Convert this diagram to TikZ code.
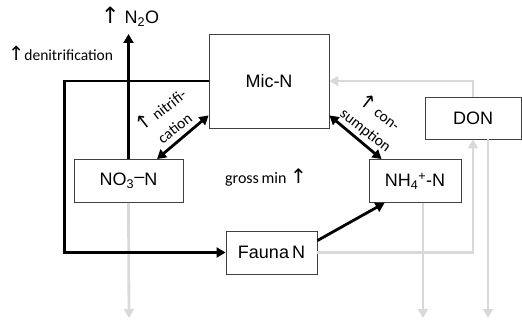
\documentclass[tikz,border=0pt]{standalone}
\usepackage{fontspec}
\setmainfont{Liberation Sans}
\newfontfamily\calfont{Carlito}
\newfontfamily\symfont{DejaVu Sans}
\newcommand{\UpArw}{\scalebox{1.25}{\symfont ↑}}
\usetikzlibrary{arrows.meta,calc}
\definecolor{lgray}{RGB}{217,217,217}
\definecolor{boxgray}{RGB}{64,64,64}
\tikzset{
  box/.style={draw=boxgray, line width=0.9pt, inner sep=0pt, font=\fontsize{18}{20}\selectfont},
  blk/.style={line width=2.8pt, black},
  gry/.style={line width=2.8pt, lgray},
  tip/.tip={Triangle[length=9pt,width=10pt]},
  lbl/.style={font=\calfont\fontsize{15.5}{17}\selectfont, inner sep=0pt},
  rlbl/.style={font=\calfont\fontsize{15.5}{22}\selectfont, inner sep=0pt, align=center},
}
\begin{document}
\begin{tikzpicture}[x=1pt,y=1pt]
\useasboundingbox (0,0) rectangle (522,-323);
% boxes
\node[box, minimum width=120pt, minimum height=94pt] (mic) at (269,-81) {Mic-N};
\node[box, minimum width=96pt, minimum height=42pt] (don) at (473,-118) {DON};
\node[box, minimum width=109pt, minimum height=43pt] (no3) at (128.5,-181) {NO\textsubscript{3}\raisebox{3.5pt}{–}N};
\node[box, minimum width=92pt, minimum height=43pt] (nh4) at (415,-181) {NH\textsubscript{4}\textsuperscript{+}-N};
\node[box, minimum width=91pt, minimum height=43pt] (fauna) at (271.5,-252.5) {Fauna\,N};
% labels
\node[font=\fontsize{18}{20}\selectfont, inner sep=0pt] (n2o) at (130,-17) {\UpArw\ N\textsubscript{2}O};
\node[lbl, anchor=west] (denit) at (8,-53) {\UpArw denitrification};
\node[lbl, font=\calfont\fontsize{16}{18}\selectfont] (gross) at (266,-178) {gross\,min \UpArw};
\node[rlbl, rotate=38] (nitlab) at (167,-118) {\UpArw\ nitrifi-\\cation};
\node[rlbl, rotate=-38] (conlab) at (373,-121) {\UpArw\ con-\\sumption};
% gray connectors
\coordinate (no3out) at (129,-318);
\coordinate (nh4out) at (423,-318);
\coordinate (donout) at (488,-318);
\draw[gry, -tip] (don.north) |- (mic.east);
\draw[gry, -tip] (fauna.east) -| (don.south);
\draw[gry, -tip] ($(don.south)+(15,0)$) -- (donout);
\draw[gry, -tip] ($(nh4.south)+(8,0)$) -- (nh4out);
\draw[gry, -tip] (no3.south) -- (no3out);
% black connectors
\coordinate (n2otip) at (128.5,-34);
\draw[blk, -tip] (no3.north) -- (n2otip);
\draw[blk, -tip] (mic.west) -- ++(-144,0) |- (fauna.west);
\draw[blk, tip-tip] ($(no3.north)+(28.5,0)$) -- ($(mic.south west)+(0,13)$);
\draw[blk, tip-tip] ($(mic.south east)+(0,13)$) -- ($(nh4.north west)+(13,0)$);
\draw[blk, -tip] ($(fauna.north east)+(0,-10)$) -- ($(nh4.south west)+(16,0)$);
\end{tikzpicture}
\end{document}
